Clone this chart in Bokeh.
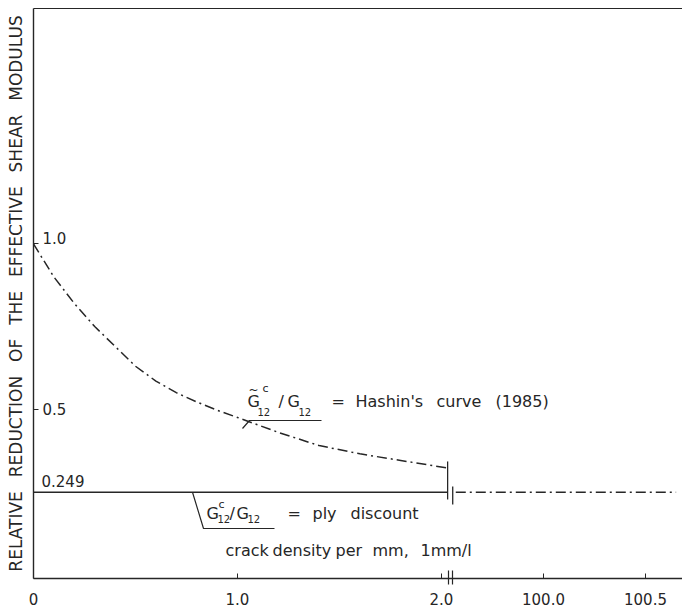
from bokeh.plotting import figure
from bokeh.models import Range1d, FixedTicker, LinearAxis, ColumnDataSource
from bokeh.core.properties import value
from bokeh.embed import file_html
from bokeh.resources import INLINE

# ---------------- data ----------------
hashin_density = [0.0, 0.1, 0.2, 0.3, 0.4, 0.5, 0.6, 0.7, 0.8, 0.9, 1.0, 1.2, 1.4, 1.6, 1.8, 2.03]
hashin_ratio = [1.0, 0.90, 0.82, 0.75, 0.69, 0.63, 0.585, 0.55, 0.522, 0.497, 0.475, 0.43, 0.39, 0.365, 0.345, 0.322]
ply_discount_ratio = 0.249
ply_density = [0.0, 2.03]
tail_density = [99.57, 100.65]
x_tick_values = [0.0, 1.0, 2.0, 100.0, 100.5]
x_tick_labels = ["0", "1.0", "2.0", "100.0", "100.5"]
y_tick_values = [0.5, 1.0]
y_tick_labels = ["0.5", "1.0"]
ply_label = "0.249"
y_axis_title = "\u2002 ".join(["RELATIVE", "REDUCTION", "OF", "THE", "EFFECTIVE", "SHEAR", "MODULUS"])

# ---------------- broken axis mapping ----------------
BREAK_SHIFT = 97.5
def xmap(v):
    return v if v < 50 else v - BREAK_SHIFT

W, H = 682, 608
LEFT, TOP, BOTTOM = 33, 8, 578
PXU = 204.0
XMAX = (W - LEFT) / PXU
Y0, Y1 = -0.012, 1.712

def px_x(px):
    return (px - LEFT) / PXU

def px_y(py):
    return Y1 - (py - TOP) / (BOTTOM - TOP) * (Y1 - Y0)

INK = "#262626"
FONT = value("DejaVu Sans")

p = figure(width=W, height=H, x_range=Range1d(0, XMAX), y_range=Range1d(Y0, Y1),
           output_backend="svg", toolbar_location=None,
           x_axis_type=None, y_axis_type=None,
           min_border_left=LEFT, min_border_top=TOP, min_border_bottom=H - BOTTOM,
           min_border_right=0)
p.outline_line_color = None
p.background_fill_color = "white"
p.border_fill_color = "white"

# bottom axis
xticks = [xmap(v) for v in x_tick_values]
xaxis = LinearAxis(ticker=FixedTicker(ticks=xticks, minor_ticks=[2.035, 2.055]),
                   major_label_overrides={t: l for t, l in zip(xticks, x_tick_labels)})
xaxis.axis_line_color = INK
xaxis.axis_line_width = 1.4
xaxis.major_tick_line_color = INK
xaxis.major_tick_in = 5
xaxis.major_tick_out = 0
xaxis.minor_tick_line_color = INK
xaxis.minor_tick_line_width = 1.2
xaxis.minor_tick_in = 8
xaxis.minor_tick_out = 6
xaxis.major_label_standoff = 8
xaxis.major_label_text_font = "DejaVu Sans"
xaxis.major_label_text_font_size = "15px"
xaxis.major_label_text_color = INK
p.add_layout(xaxis, "below")

# left axis (labels drawn inside the frame below)
yaxis = LinearAxis(ticker=FixedTicker(ticks=y_tick_values),
                   major_label_overrides={v: "" for v in y_tick_values})
yaxis.axis_line_color = INK
yaxis.axis_line_width = 1.4
yaxis.major_tick_line_color = INK
yaxis.major_tick_in = 5
yaxis.major_tick_out = 0
yaxis.major_label_standoff = 0
yaxis.axis_label = y_axis_title
yaxis.axis_label_text_font = "DejaVu Sans"
yaxis.axis_label_text_font_size = "17px"
yaxis.axis_label_text_font_style = "normal"
yaxis.axis_label_text_color = INK
yaxis.axis_label_standoff = 8
p.add_layout(yaxis, "left")

# top frame line
top = LinearAxis(ticker=FixedTicker(ticks=[]))
top.axis_line_color = INK
top.axis_line_width = 1.2
top.major_tick_out = 0
top.major_tick_in = 0
top.major_label_standoff = 0
p.add_layout(top, "above")

# curves
p.line([xmap(v) for v in hashin_density], hashin_ratio, line_color=INK, line_width=1.5,
       line_dash="10 4 2 4")
p.line([xmap(v) for v in ply_density], [ply_discount_ratio] * 2, line_color=INK, line_width=1.6)
p.line([xmap(v) for v in tail_density], [ply_discount_ratio] * 2, line_color=INK, line_width=1.5,
       line_dash="10 4 2 4")

# break marks on the curves
xb = xmap(ply_density[-1])
p.segment(x0=[xb, xb + 0.025], y0=[hashin_ratio[-1] + 0.02, ply_discount_ratio + 0.017],
          x1=[xb, xb + 0.025], y1=[ply_discount_ratio - 0.022, ply_discount_ratio - 0.037],
          line_color=INK, line_width=1.3)

# y tick labels (inside the frame)
p.text(x=[0, 0], y=y_tick_values, text=y_tick_labels, x_offset=9, y_offset=[0, -6],
       text_font=FONT, text_font_size="15px", text_color=INK,
       text_align="left", text_baseline="middle")
p.text(x=[0], y=[ply_discount_ratio], text=[ply_label], x_offset=8, y_offset=-11,
       text_font=FONT, text_font_size="15px", text_color=INK,
       text_align="left", text_baseline="middle")

# annotation texts
items = [
    ("G", 247, 401, "16px"), ("~", 248, 389, "12px"), ("c", 262, 388, "11px"), ("12", 257, 411, "10px"),
    ("/", 278, 401, "16px"), ("G", 287, 401, "16px"), ("12", 298, 411, "10px"),
    ("=", 331, 401, "16px"), ("Hashin's", 355, 401, "16px"), ("curve", 436, 401, "16px"),
    ("(1985)", 495, 401, "16px"),
    ("G", 206, 513, "16px"), ("c", 218, 504, "11px"), ("12", 217, 518, "10px"),
    ("/", 229, 513, "16px"), ("G", 236, 513, "16px"), ("12", 247, 518, "10px"),
    ("=", 287, 513, "16px"), ("ply", 312, 513, "16px"), ("discount", 350, 513, "16px"),
    ("crack", 225, 550, "16px"), ("density", 272, 550, "16px"), ("per", 335, 550, "16px"),
    ("mm,", 372, 550, "16px"), ("1mm/l", 420, 550, "16px"),
]
src = ColumnDataSource(dict(
    x=[px_x(a) for _, a, _, _ in items], y=[px_y(b) for _, _, b, _ in items],
    t=[s for s, _, _, _ in items], fs=[f for _, _, _, f in items]))
p.text(x="x", y="y", text="t", text_font_size="fs", source=src, text_font=FONT,
       text_color=INK, text_align="left", text_baseline="middle")

# leaders
p.line([px_x(242), px_x(249), px_x(321)], [px_y(428), px_y(420), px_y(420)],
       line_color=INK, line_width=1.2)
p.line([px_x(192), px_x(203), px_x(274)], [ply_discount_ratio, px_y(528), px_y(528)],
       line_color=INK, line_width=1.2)

open("out.html", "w").write(file_html(p, INLINE))
